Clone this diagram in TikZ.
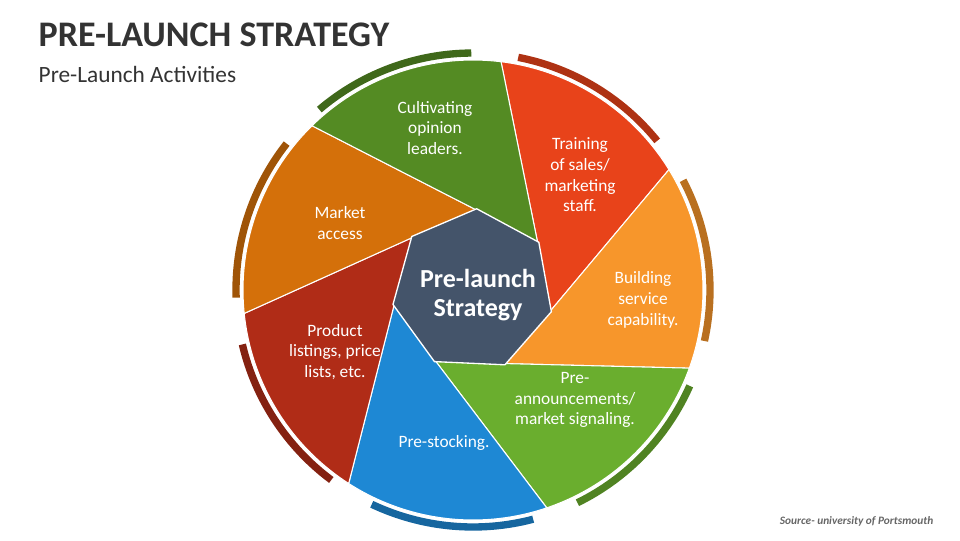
\documentclass[tikz,border=0pt]{standalone}
\usepackage{fontspec}
\setmainfont{Carlito}
\usetikzlibrary{shapes.geometric,calc}
\definecolor{cRed}{HTML}{E8431A}
\definecolor{cOrange}{HTML}{F7962B}
\definecolor{cLime}{HTML}{6AAE2E}
\definecolor{cBlue}{HTML}{1E88D4}
\definecolor{cBrick}{HTML}{B02C17}
\definecolor{cAmber}{HTML}{D4700A}
\definecolor{cGreen}{HTML}{548B23}
\definecolor{cSlate}{HTML}{44546A}
\tikzset{seglabel/.style={text=white,align=center,font=\fontsize{13}{15.5}\selectfont}}

\begin{document}
\begin{tikzpicture}[x=0.75pt,y=-0.75pt]
\useasboundingbox (0,0) rectangle (960,540);

% segments
\foreach \k/\col in {0/cRed,1/cOrange,2/cLime,3/cBlue,4/cBrick,5/cAmber,6/cGreen}{
  \pgfmathsetmacro\a{83-51.43*\k}
  \pgfmathsetmacro\b{\a-51.43}
  \fill[\col,draw=white,line width=0.8pt]
    ($(473,290)+(\a:230 and -230)$) arc[start angle=-\a,end angle=-\b,radius=230]
    -- ($(473,290)+(\b-47:80 and -80)$) -- ($(473,290)+(\a-47:80 and -80)$) -- cycle;
  \draw[\col!75!black,line width=5.5pt]
    ($(473,290)+(\a-4:237 and -237)$) arc[start angle=-\a+4,end angle=-\a+44,radius=237];
}

\node[regular polygon,regular polygon sides=7,minimum size=122pt,inner sep=0pt,fill=cSlate,
      draw=white,line width=1pt,rotate=-2.6] (hub) at (473,290) {};
\node[text=white,align=center,font=\bfseries\fontsize{19.5}{22}\selectfont] (hubtxt) at (478,295) {Pre-launch\\Strategy};

\node[seglabel] (cult) at (435,128) {Cultivating\\opinion\\leaders.};
\node[seglabel] (train) at (580,175) {Training\\of sales/\\marketing\\staff.};
\node[seglabel] (build) at (643,300) {Building\\service\\capability.};
\node[seglabel] (annc) at (575,400) {Pre-\\announcements/\\market signaling.};
\node[seglabel] (stock) at (444,443) {Pre-stocking.};
\node[seglabel] (list) at (335,352) {Product\\listings, price\\lists, etc.};
\node[seglabel] (access) at (340,223) {Market\\access};

\node[anchor=west,font=\bfseries\fontsize{27}{30}\selectfont,text=black!80] (title) at (34,35) {PRE-LAUNCH STRATEGY};
\node[anchor=west,font=\fontsize{17.5}{20}\selectfont,text=black!80] (sub) at (34,74) {Pre-Launch Activities};
\node[anchor=east,font=\bfseries\itshape\fontsize{8.5}{10}\selectfont,text=black!60] (src) at (938,521) {Source- university of Portsmouth};
\end{tikzpicture}
\end{document}
